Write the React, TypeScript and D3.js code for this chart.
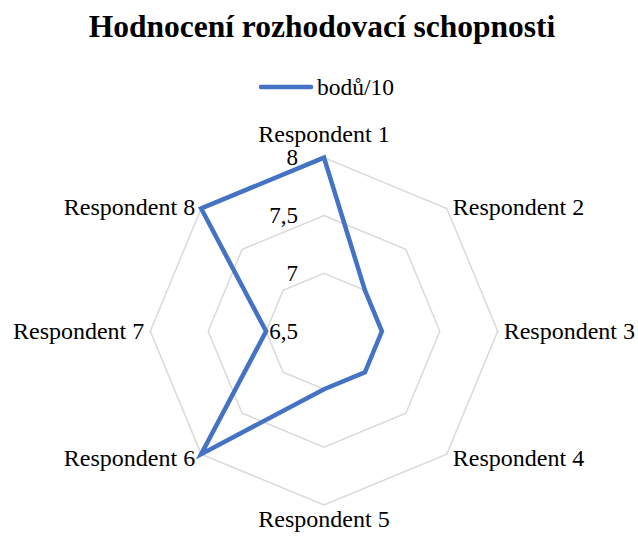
import React from "react";
import * as d3 from "d3";

const categories = ["Respondent 1","Respondent 2","Respondent 3","Respondent 4","Respondent 5","Respondent 6","Respondent 7","Respondent 8"];
const values = [8, 7, 7, 7, 7, 8, 7, 8];
const ticks = [6.5, 7, 7.5, 8];
const tickLabels = ["6,5", "7", "7,5", "8"];
const seriesName = "bodů/10";
const title = "Hodnocení rozhodovací schopnosti";

export default function App() {
  const W = 638, H = 538;
  const cx = 324, cy = 331.3, R = 173.7;
  const font = "Liberation Serif";
  const r = d3.scaleLinear().domain([6.5, 8]).range([0, R]);
  const n = categories.length;
  const angle = (i: number) => (i / n) * 2 * Math.PI;
  const pt = (i: number, v: number): [number, number] => [
    cx + r(v) * Math.sin(angle(i)),
    cy - r(v) * Math.cos(angle(i)),
  ];
  const line = d3.line<number>().x((v, i) => pt(i, v)[0]).y((v, i) => pt(i, v)[1]).curve(d3.curveLinearClosed);
  const ringLine = (t: number) =>
    d3.line<number>().x((_, i) => pt(i, t)[0]).y((_, i) => pt(i, t)[1]).curve(d3.curveLinearClosed)(categories.map(() => t));

  return (
    <svg width={W} height={H} style={{ position: "absolute", left: 0, top: 0 }}>
      <rect width={W} height={H} fill="#fff" />
      <text x={322} y={37} textAnchor="middle" fontFamily={font} fontWeight="bold" fontSize={31.5}>{title}</text>
      <line x1={261} x2={311} y1={87} y2={87} stroke="#4472C4" strokeWidth={4.5} strokeLinecap="round" />
      <text x={317} y={95} fontFamily={font} fontSize={23.5}>{seriesName}</text>
      {ticks.filter(t => t > 6.5).map(t => (
        <path key={t} d={ringLine(t) || ""} fill="none" stroke="#d9d9d9" strokeWidth={1.5} />
      ))}
      <path d={line(values) || ""} fill="none" stroke="#4472C4" strokeWidth={4.5} strokeLinejoin="miter" />
      {ticks.map((t, i) => (
        <text key={t} x={298} y={cy - r(t) + 7.5} textAnchor="end" fontFamily={font} fontSize={23}>{tickLabels[i]}</text>
      ))}
      {categories.map((c, i) => {
        const [x, y] = pt(i, 8);
        const s = Math.sin(angle(i));
        const co = Math.cos(angle(i));
        let anchor = "middle";
        let tx = x, ty = y;
        if (s > 0.1) { anchor = "start"; tx = x + 6; }
        else if (s < -0.1) { anchor = "end"; tx = x - 6; }
        if (Math.abs(s) > 0.99) ty = y + 7.5;
        else if (co > 0.99) ty = y - 16;
        else if (co < -0.99) ty = y + 22;
        else if (co > 0) ty = y + 7;
        else ty = y + 12;
        return (
          <text key={c} x={tx} y={ty} textAnchor={anchor} fontFamily={font} fontSize={24}>{c}</text>
        );
      })}
    </svg>
  );
}
